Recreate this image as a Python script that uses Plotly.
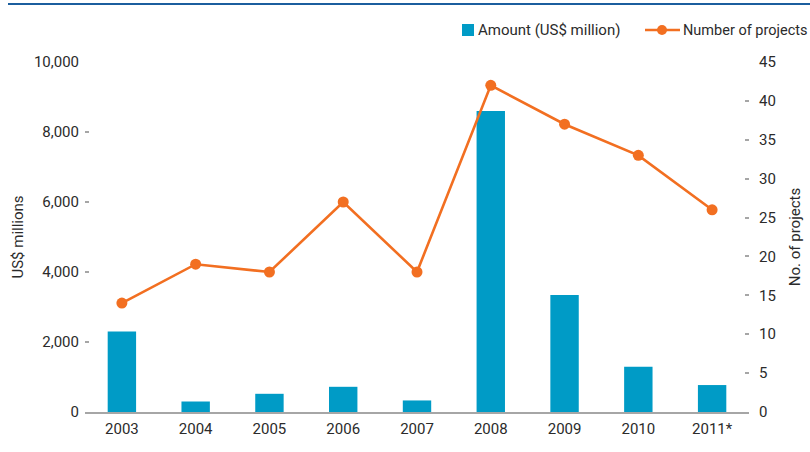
import plotly.graph_objects as go

# Data
years = ["2003", "2004", "2005", "2006", "2007", "2008", "2009", "2010", "2011*"]
amount_usd_m = [2300, 300, 520, 720, 330, 8600, 3340, 1290, 770]
num_projects = [14, 19, 18, 27, 18, 42, 37, 33, 26]
left_ticks = [0, 2000, 4000, 6000, 8000, 10000]
right_ticks = [0, 5, 10, 15, 20, 25, 30, 35, 40, 45]

BAR_COLOR = "#009BC6"
LINE_COLOR = "#F26F21"
TEXT_COLOR = "#2B2B2B"
AXIS_GREY = "#A6A6A6"
FONT = "Roboto, sans-serif"
FS = 15

W, H = 810, 452
ML, MR, MT, MB = 85, 61, 62, 40
PW, PH = W - ML - MR, H - MT - MB


def px_x(x):
    return (x - ML) / PW


def px_y(y):
    return (H - MB - y) / PH


fig = go.Figure()

fig.add_trace(go.Bar(
    x=years, y=amount_usd_m, name="Amount (US$ million)",
    marker=dict(color=BAR_COLOR, line=dict(width=0)),
    width=0.385, showlegend=False,
))

fig.add_trace(go.Scatter(
    x=years, y=num_projects, name="Number of projects", yaxis="y2",
    mode="lines+markers",
    line=dict(color=LINE_COLOR, width=2.6),
    marker=dict(color=LINE_COLOR, size=11),
    showlegend=False, cliponaxis=False,
))

shapes = [
    # rule across the top
    dict(type="line", xref="paper", yref="paper",
         x0=px_x(8), x1=px_x(810), y0=px_y(4), y1=px_y(4),
         line=dict(color="#1B5E9E", width=2)),
    # legend: bar swatch
    dict(type="rect", xref="paper", yref="paper",
         x0=px_x(462), x1=px_x(474), y0=px_y(36), y1=px_y(24),
         fillcolor=BAR_COLOR, line=dict(width=0)),
    # legend: line swatch
    dict(type="line", xref="paper", yref="paper",
         x0=px_x(645), x1=px_x(680), y0=px_y(30), y1=px_y(30),
         line=dict(color=LINE_COLOR, width=2.6)),
    dict(type="circle", xref="paper", yref="paper",
         x0=px_x(657), x1=px_x(667), y0=px_y(35), y1=px_y(25),
         fillcolor=LINE_COLOR, line=dict(width=0)),
]

annotations = [
    dict(text="Amount (US$ million)", xref="paper", yref="paper",
         x=px_x(476), y=px_y(30), xanchor="left", yanchor="middle",
         showarrow=False, font=dict(family=FONT, size=FS, color=TEXT_COLOR)),
    dict(text="Number of projects", xref="paper", yref="paper",
         x=px_x(681), y=px_y(30), xanchor="left", yanchor="middle",
         showarrow=False, font=dict(family=FONT, size=14.5, color=TEXT_COLOR)),
]

fig.update_layout(
    width=W, height=H,
    margin=dict(l=ML, r=MR, t=MT, b=MB, pad=0, autoexpand=False),
    paper_bgcolor="white", plot_bgcolor="white",
    font=dict(family=FONT, size=FS, color=TEXT_COLOR),
    showlegend=False,
    bargap=0.6,
    shapes=shapes,
    annotations=annotations,
    xaxis=dict(
        type="category", range=[-0.5, 8.5], automargin=False,
        showline=True, linecolor=AXIS_GREY, linewidth=2,
        ticks="", showgrid=False, zeroline=False,
        tickfont=dict(size=FS, color=TEXT_COLOR),
        ticklabelstandoff=2,
    ),
    yaxis=dict(
        range=[0, 10000], tickvals=left_ticks, automargin=False,
        tickformat=",d",
        showline=False, showgrid=False, zeroline=False,
        ticks="inside", ticklen=4, tickcolor=AXIS_GREY, tickwidth=1.5,
        tickfont=dict(size=FS, color=TEXT_COLOR),
        ticklabelstandoff=5,
        title=dict(text="US$ millions", font=dict(size=FS, color=TEXT_COLOR), standoff=6),
    ),
    yaxis2=dict(
        range=[0, 45], tickvals=right_ticks, automargin=False,
        overlaying="y", side="right",
        showline=False, showgrid=False, zeroline=False,
        ticks="inside", ticklen=4, tickcolor=AXIS_GREY, tickwidth=1.5,
        tickfont=dict(size=FS, color=TEXT_COLOR),
        ticklabelstandoff=9,
        title=dict(text="No. of projects", font=dict(size=FS, color=TEXT_COLOR), standoff=14),
    ),
)

fig.write_html("out.html")
